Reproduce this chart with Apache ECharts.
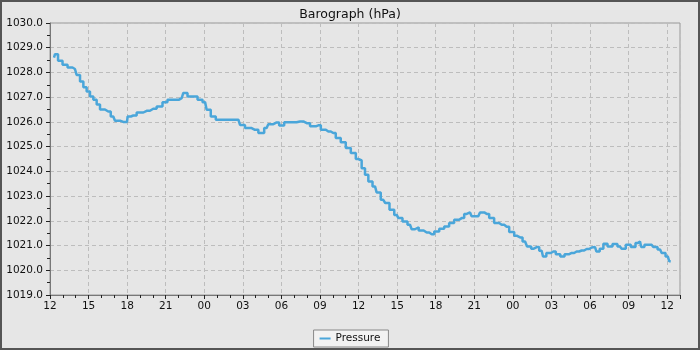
<!DOCTYPE html>
<html>
<head>
<meta charset="utf-8">
<script src="https://cdn.jsdelivr.net/npm/echarts@6/dist/echarts.min.js"></script>
<style>
html,body{margin:0;padding:0;background:#e6e6e6;}
#chart{width:700px;height:350px;}
</style>
</head>
<body>
<div id="chart"></div>
<script>
// Hours since 12:00 on the first day
const hours = [0.31,0.47,0.78,1.17,1.56,1.94,2.20,2.47,2.72,2.98,3.24,3.50,3.76,4.02,4.53,4.92,5.19,5.70,5.99,6.09,6.48,7.00,7.52,8.03,8.56,8.94,9.33,9.85,10.24,10.50,10.89,11.28,11.67,12.06,12.31,12.70,13.09,13.74,14.65,14.91,15.42,15.94,16.47,16.85,17.11,17.63,18.02,18.41,18.92,19.44,19.97,20.48,20.87,21.26,21.65,22.03,22.42,22.81,23.20,23.59,23.98,24.11,24.37,24.63,24.89,25.28,25.53,25.92,26.23,26.58,26.97,27.22,27.61,28.00,28.26,28.52,28.83,29.30,29.69,30.08,30.47,30.85,31.24,31.63,32.02,32.41,32.67,32.92,33.31,33.58,33.97,34.35,34.74,35.13,35.52,35.91,36.30,36.56,36.95,37.26,37.59,37.86,38.24,38.45,38.76,39.15,39.53,39.85,40.19,40.58,40.96,41.35,41.74,42.13,42.39,42.60,42.91,43.17,43.56,43.94,44.33,44.59,44.98,45.37,45.71,45.89,46.07,46.40,46.79,47.06,47.45,47.70,48.05,48.28];
const pressure = [1028.60,1028.74,1028.47,1028.31,1028.20,1028.14,1027.90,1027.63,1027.40,1027.23,1027.03,1026.90,1026.70,1026.50,1026.42,1026.22,1026.05,1026.00,1026.00,1026.22,1026.26,1026.38,1026.45,1026.53,1026.62,1026.80,1026.90,1026.90,1026.96,1027.17,1027.03,1027.03,1026.90,1026.80,1026.49,1026.22,1026.09,1026.09,1026.09,1025.88,1025.75,1025.68,1025.55,1025.75,1025.91,1025.98,1025.85,1025.99,1025.99,1026.02,1025.95,1025.82,1025.86,1025.68,1025.61,1025.55,1025.35,1025.18,1024.94,1024.74,1024.50,1024.44,1024.13,1023.86,1023.59,1023.39,1023.15,1022.85,1022.72,1022.45,1022.24,1022.11,1021.97,1021.84,1021.66,1021.74,1021.61,1021.53,1021.46,1021.57,1021.68,1021.77,1021.91,1022.04,1022.11,1022.28,1022.34,1022.18,1022.18,1022.34,1022.28,1022.11,1021.91,1021.84,1021.76,1021.55,1021.40,1021.33,1021.16,1020.96,1020.87,1020.94,1020.79,1020.56,1020.70,1020.76,1020.65,1020.56,1020.65,1020.70,1020.76,1020.80,1020.86,1020.92,1020.94,1020.76,1020.87,1021.07,1020.96,1021.06,1020.96,1020.87,1021.03,1020.94,1021.10,1021.16,1020.94,1021.03,1021.03,1020.94,1020.84,1020.70,1020.56,1020.36];
const startHour = 12;
const titleText = 'Barograph (hPa)';
const seriesName = 'Pressure';

const data = hours.map((h, i) => [h, pressure[i]]);
const FONT = 'DejaVu Sans';

const chart = echarts.init(document.getElementById('chart'), null, {renderer: 'canvas'});
chart.setOption({
  backgroundColor: '#e6e6e6',
  animation: false,
  title: {
    text: titleText, left: 'center', top: 3,
    textStyle: {fontFamily: FONT, fontSize: 12.5, fontWeight: 'normal', color: '#111'}
  },
  legend: {
    data: [seriesName], left: 'center', top: 330,
    backgroundColor: '#f2f2f2', borderColor: '#888', borderWidth: 1, borderRadius: 0,
    padding: [3, 8, 3, 6], itemWidth: 11, itemHeight: 2, icon: 'rect', itemGap: 6,
    textStyle: {fontFamily: FONT, fontSize: 10.5, color: '#111'}
  },
  grid: {
    left: 50, right: 20, top: 23, bottom: 55,
    show: true, borderColor: '#999', borderWidth: 1, backgroundColor: 'transparent'
  },
  xAxis: {
    type: 'value', min: 0, max: 49, interval: 3,
    axisLine: {lineStyle: {color: '#777', width: 1}},
    axisTick: {show: true, inside: false, length: 4, lineStyle: {color: '#222'}},
    minorTick: {show: true, splitNumber: 3, length: 3, lineStyle: {color: '#222'}},
    axisLabel: {
      margin: 6, fontFamily: FONT, fontSize: 10.5, color: '#111',
      showMaxLabel: false,
      formatter: v => (v % 3 === 0) ? String((startHour + v) % 24).padStart(2, '0') : ''
    },
    splitLine: {show: true, lineStyle: {color: '#bdbdbd', type: [4, 3], width: 1}}
  },
  yAxis: {
    type: 'value', min: 1019, max: 1030, interval: 1,
    axisLine: {show: true, lineStyle: {color: '#777', width: 1}},
    axisTick: {show: true, inside: false, length: 4, lineStyle: {color: '#222'}},
    minorTick: {show: true, splitNumber: 2, length: 3, lineStyle: {color: '#222'}},
    axisLabel: {
      margin: 7, fontFamily: FONT, fontSize: 10.5, color: '#111',
      formatter: v => v.toFixed(1)
    },
    splitLine: {show: true, lineStyle: {color: '#bdbdbd', type: [4, 3], width: 1}}
  },
  series: [{
    name: seriesName, type: 'line', data: data, showSymbol: false, symbol: 'none',
    step: 'middle',
    lineStyle: {color: '#4aa6da', width: 2.5}, itemStyle: {color: '#4aa6da'}
  }],
  graphic: [{
    type: 'rect', silent: true, z: 100,
    shape: {x: 1, y: 1, width: 698, height: 348},
    style: {fill: 'none', stroke: '#555', lineWidth: 2}
  }]
});
</script>
</body>
</html>
